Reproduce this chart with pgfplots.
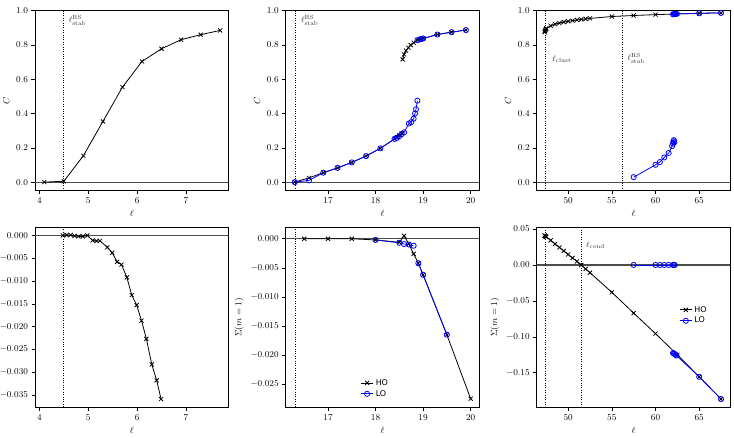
\documentclass[border=0pt]{standalone}
\usepackage{fontspec}
\usepackage{pgfplots}
\pgfplotsset{compat=1.18}
\newfontfamily\dejavu{DejaVu Sans}
\definecolor{lob}{rgb}{0,0,1}
\tikzset{ann/.style={font=\fontsize{8.5}{9}\selectfont, black!80}}
\pgfplotsset{
  panel/.style={
    scale only axis, width=193.5bp, height=180bp, anchor=south west,
    tick pos=left, tick align=outside, major tick length=3.5bp,
    tick style={black, line width=0.6pt},
    axis line style={line width=0.6pt},
    tick label style={font=\fontsize{8.6}{9}\selectfont},
    label style={font=\fontsize{9}{10}\selectfont},
    scaled ticks=false,
    xlabel={$\ell$},
    legend cell align=left,
    legend style={draw=none, fill=none, font=\dejavu\fontsize{8}{8}\selectfont, row sep=-0.5pt},
    legend image code/.code={\draw[mark repeat=2,mark phase=2,##1] plot coordinates {(0cm,0cm) (0.22cm,0cm) (0.44cm,0cm)};},
  },
  ytwo/.style={yticklabel style={/pgf/number format/.cd, fixed, fixed zerofill, precision=#1}},
  ho/.style={black, line width=0.8pt, mark=x, mark size=2.9pt, mark options={solid, line width=0.8pt}},
  lo/.style={lob, line width=0.8pt, mark=o, mark size=2.6pt, mark options={solid, line width=0.8pt}},
  zero/.style={black!70, line width=1.2pt, forget plot},
  vl/.style={black, line width=0.8pt, dash pattern=on 1pt off 1.4pt, forget plot},
}
\begin{document}
\begin{tikzpicture}
\path[use as bounding box] (0,0) rectangle (734bp,438bp);
% ---------- Panel 1 ----------
\begin{axis}[panel, at={(35bp,247.3bp)}, xmin=3.91, xmax=7.87, ymin=-0.05, ymax=1.0,
  xtick={4,5,6,7}, ytick={0,0.2,0.4,0.6,0.8,1.0}, ytwo=1, ylabel={$C$}]
\addplot[zero] coordinates {(3,0) (9,0)};
\addplot[vl] coordinates {(4.5,-1) (4.5,2)};
\addplot[ho] coordinates {(4.1,0.0) (4.5,0.005) (4.9,0.154) (5.3,0.354) (5.7,0.554) (6.1,0.704) (6.5,0.778) (6.9,0.831) (7.3,0.86) (7.7,0.885)};
\node[anchor=north west, ann] at (axis cs:4.53,0.995) {$\ell^{\rm RS}_{\rm stab}$};
\end{axis}
% ---------- Panel 2 ----------
\begin{axis}[panel, at={(285.7bp,247.3bp)}, xmin=16.11, xmax=20.18, ymin=-0.05, ymax=1.0,
  xtick={17,18,19,20}, ytick={0,0.2,0.4,0.6,0.8,1.0}, ytwo=1, ylabel={$C$}]
\addplot[zero] coordinates {(15,0) (21,0)};
\addplot[vl] coordinates {(16.32,-1) (16.32,2)};
\addplot[ho, forget plot] coordinates {(16.3,0.0) (16.6,0.025) (16.9,0.055) (17.2,0.083) (17.5,0.115) (17.8,0.152) (18.1,0.197) (18.4,0.252) (18.45,0.262) (18.5,0.272) (18.55,0.285)};
\addplot[ho, forget plot] coordinates {(18.57,0.716) (18.6,0.745) (18.64,0.767) (18.69,0.784) (18.74,0.80) (18.8,0.813) (18.88,0.828) (18.95,0.833) (19.0,0.838) (19.3,0.861) (19.6,0.875) (19.9,0.887)};
\addplot[lo, forget plot] coordinates {(16.3,0.0) (16.6,0.01) (16.9,0.055) (17.2,0.083) (17.5,0.115) (17.8,0.152) (18.1,0.197) (18.4,0.252) (18.45,0.258) (18.5,0.268) (18.55,0.28) (18.6,0.29) (18.7,0.342) (18.75,0.35) (18.8,0.37) (18.83,0.40) (18.85,0.425) (18.88,0.475)};
\addplot[lo, forget plot] coordinates {(18.88,0.828) (18.93,0.833) (18.97,0.836) (19.0,0.838) (19.3,0.861) (19.6,0.875) (19.9,0.887)};
\node[anchor=north west, ann] at (axis cs:16.36,0.995) {$\ell^{\rm RS}_{\rm stab}$};
\end{axis}
% ---------- Panel 3 ----------
\begin{axis}[panel, at={(536.7bp,247.3bp)}, xmin=46.4, xmax=68.55, ymin=-0.05, ymax=1.0,
  xtick={50,55,60,65}, ytick={0,0.2,0.4,0.6,0.8,1.0}, ytwo=1, ylabel={$C$}]
\addplot[zero] coordinates {(40,0) (70,0)};
\addplot[vl] coordinates {(47.42,-1) (47.42,2)};
\addplot[vl] coordinates {(56.25,-1) (56.25,2)};
\addplot[ho, forget plot] coordinates {(47.3,0.875) (47.35,0.882) (47.4,0.888) (47.45,0.893) (47.5,0.897) (48,0.912) (48.5,0.921) (49,0.928) (49.5,0.934) (50,0.938) (50.5,0.942) (51,0.946) (51.5,0.949) (52,0.952) (52.5,0.955) (55,0.966) (57.5,0.972) (60,0.977) (62.5,0.981) (65,0.985) (67.5,0.987)};
\addplot[lo, forget plot] coordinates {(62.0,0.979) (62.1,0.98) (62.2,0.98) (62.3,0.981) (62.4,0.981) (65,0.985) (67.5,0.987)};
\addplot[lo, forget plot] coordinates {(57.5,0.029) (60,0.101) (60.5,0.117) (61,0.144) (61.5,0.17) (61.9,0.21) (62.0,0.225) (62.05,0.238) (62.1,0.245) (62.15,0.232)};
\node[anchor=west, ann] at (axis cs:47.8,0.715) {$\ell_{\rm clust}$};
\node[anchor=west, ann] at (axis cs:56.4,0.72) {$\ell^{\rm RS}_{\rm stab}$};
\end{axis}
% ---------- Panel 4 ----------
\begin{axis}[panel, at={(35bp,30.7bp)}, xmin=3.91, xmax=7.87, ymin=-0.0377, ymax=0.0018,
  xtick={4,5,6,7}, ytick={0,-0.005,-0.01,-0.015,-0.02,-0.025,-0.03,-0.035}, ytwo=3]
\addplot[zero] coordinates {(3,0) (9,0)};
\addplot[vl] coordinates {(4.5,-1) (4.5,1)};
\addplot[ho] coordinates {(4.48,0) (4.56,0.0001) (4.64,0.0001) (4.72,-0.0001) (4.80,-0.0002) (4.89,-0.0002) (4.98,0) (5.09,-0.0011) (5.17,-0.0012) (5.24,-0.0012) (5.39,-0.0026) (5.49,-0.0038) (5.59,-0.0058) (5.68,-0.0064) (5.79,-0.0092) (5.89,-0.0131) (5.99,-0.0153) (6.09,-0.0187) (6.19,-0.0227) (6.30,-0.0283) (6.40,-0.0318) (6.49,-0.0359)};
\end{axis}
% ---------- Panel 5 ----------
\begin{axis}[panel, at={(285.7bp,30.5bp)}, xmin=16.11, xmax=20.18, ymin=-0.029, ymax=0.00195,
  xtick={17,18,19,20}, ytick={0,-0.005,-0.01,-0.015,-0.02,-0.025}, ytwo=3, ylabel={$\Sigma(m=1)$},
  legend style={at={(0.37,0.18)}, anchor=north west}]
\addplot[zero] coordinates {(15,0) (21,0)};
\addplot[vl] coordinates {(16.32,-1) (16.32,1)};
\addplot[ho] coordinates {(16.5,0) (17,0) (17.5,0) (18,-0.0002) (18.5,-0.0006) (18.6,0.0005) (18.7,-0.0009) (18.8,-0.0026) (18.9,-0.0042) (19.0,-0.0062) (19.5,-0.0165) (20,-0.0275)};
\addlegendentry{HO}
\addplot[lo] coordinates {(18,-0.0002) (18.5,-0.0007) (18.6,-0.0009) (18.7,-0.001) (18.8,-0.0012)};
\addlegendentry{LO}
\addplot[lo, forget plot] coordinates {(18.9,-0.0042) (19.0,-0.0062) (19.5,-0.0165)};
\end{axis}
% ---------- Panel 6 ----------
\begin{axis}[panel, at={(536.7bp,30.7bp)}, xmin=46.4, xmax=68.55, ymin=-0.198, ymax=0.0524,
  xtick={50,55,60,65}, ytick={0.05,0,-0.05,-0.1,-0.15}, ytwo=2, ylabel={$\Sigma(m=1)$},
  legend style={at={(0.72,0.585)}, anchor=north west}]
\addplot[zero] coordinates {(40,0) (70,0)};
\addplot[vl] coordinates {(47.42,-1) (47.42,1)};
\addplot[vl] coordinates {(51.53,-1) (51.53,1)};
\addplot[ho] coordinates {(47.3,0.041) (47.35,0.0405) (47.4,0.040) (47.45,0.0395) (47.5,0.039) (48,0.0342) (48.5,0.0293) (49,0.0244) (49.5,0.0195) (50,0.0146) (50.5,0.0098) (51,0.0049) (51.5,0.0) (52,-0.0054) (52.5,-0.0108) (55,-0.038) (57.5,-0.067) (60,-0.0955) (62.5,-0.125) (65,-0.1556) (67.5,-0.1865)};
\addlegendentry{HO}
\addplot[lo] coordinates {(57.5,0) (60,0) (60.5,0) (61,0) (61.5,0) (62,0) (62.1,0) (62.2,0)};
\addlegendentry{LO}
\addplot[lo, forget plot] coordinates {(62.0,-0.1225) (62.1,-0.123) (62.2,-0.124) (62.3,-0.125) (62.4,-0.126) (65,-0.1556) (67.5,-0.1865)};
\node[anchor=west, ann] at (axis cs:51.65,0.027) {$\ell_{\rm cond}$};
\end{axis}
\end{tikzpicture}
\end{document}
